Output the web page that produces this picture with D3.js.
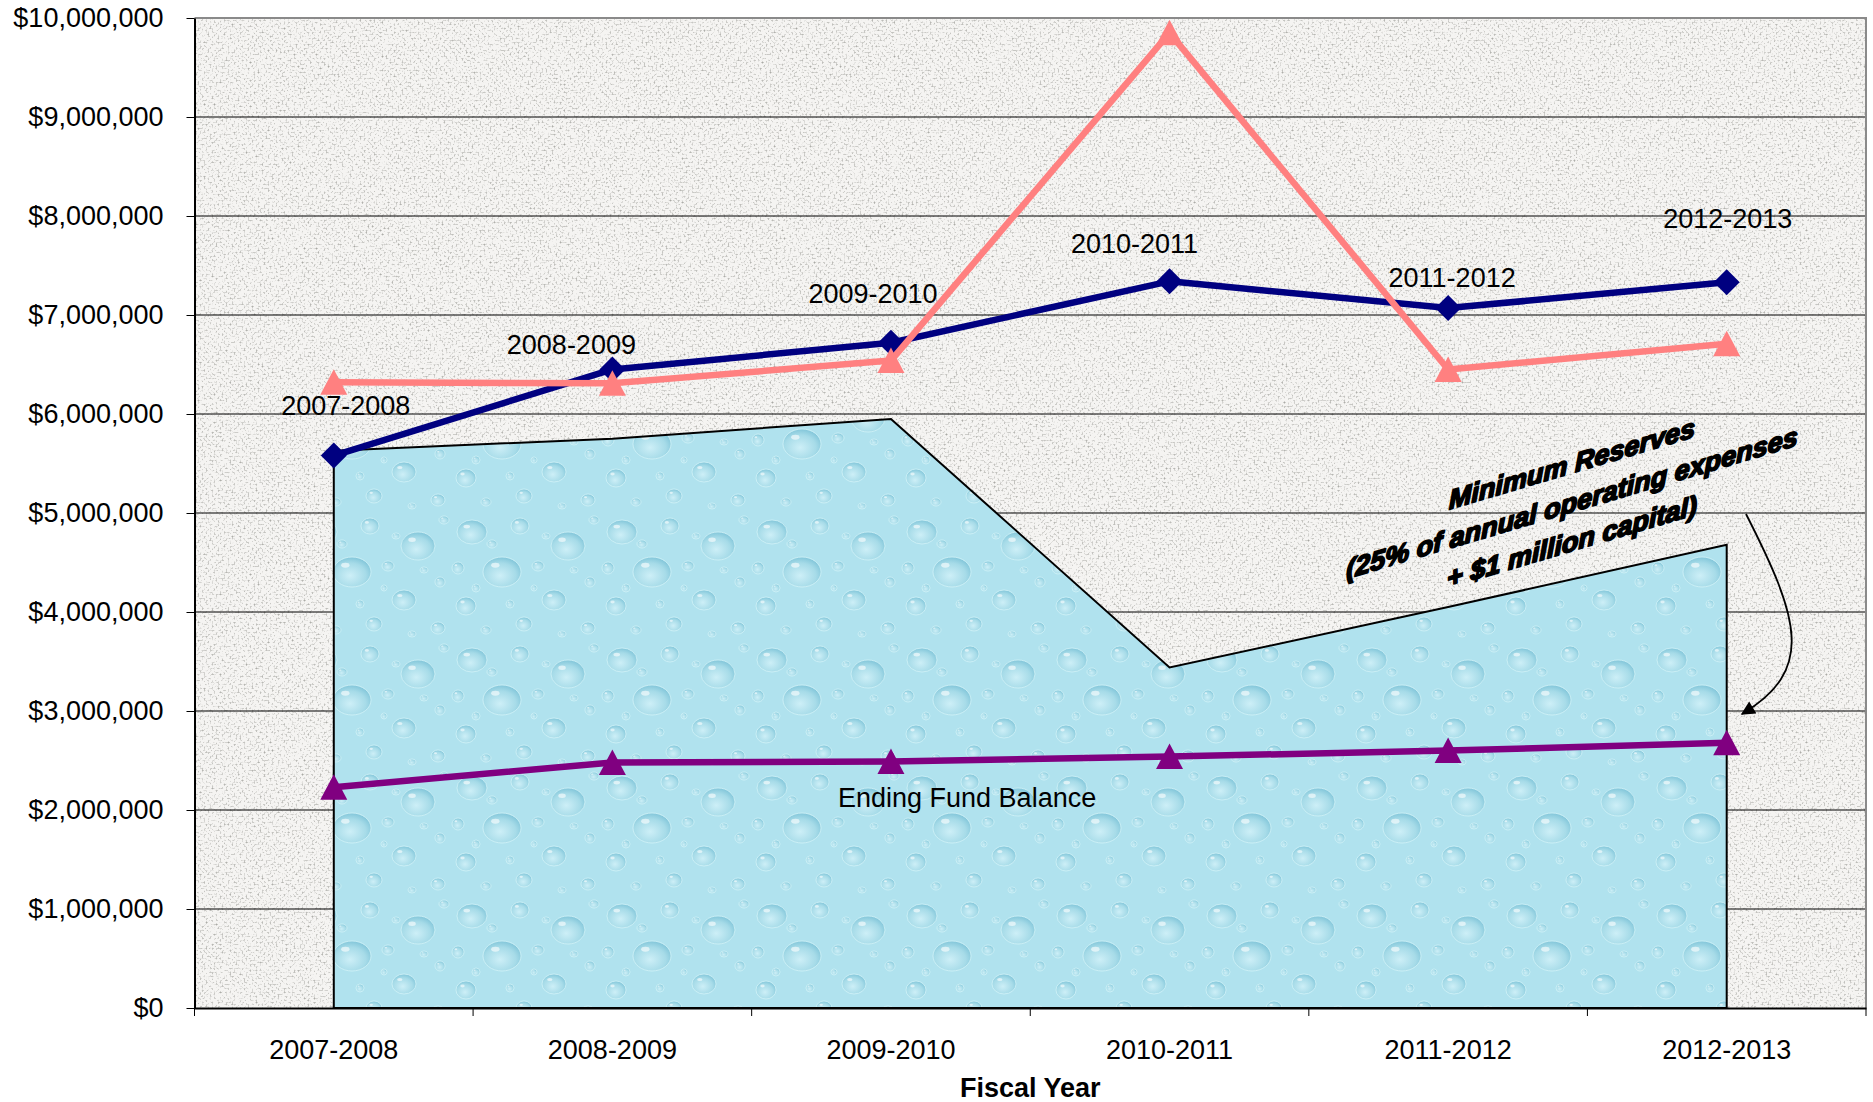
<!DOCTYPE html>
<html>
<head>
<meta charset="utf-8">
<script src="https://cdn.jsdelivr.net/npm/d3@7"></script>
<style>
	body { margin: 0; background: #fff; }
	text { font-family: 'Liberation Sans', Arial, sans-serif; }
</style>
</head>
<body>
<div class="canvas"></div>
<script>

// data
const years = ['2007-2008', '2008-2009', '2009-2010', '2010-2011', '2011-2012', '2012-2013'];
const fundBalance = [5630000, 5750000, 5950000, 3440000, 4050000, 4680000];
const revenues = [5580000, 6450000, 6720000, 7340000, 7070000, 7330000];
const expenses = [6320000, 6310000, 6540000, 9850000, 6450000, 6710000];
const minReserves = [2230000, 2480000, 2490000, 2540000, 2600000, 2680000];
const yTicks = [0, 1000000, 2000000, 3000000, 4000000, 5000000, 6000000, 7000000, 8000000, 9000000, 10000000];
const annotation = ['Minimum Reserves', '(25% of annual operating expenses', '+ $1 million capital)'];

// hand placed data label offsets (px) from the navy points
const labelOffsets = [[12, -50], [-41, -25], [-18, -49], [-35, -38], [4, -31], [1, -64]];

const width = 1873;
const height = 1102;

const svg = d3.select('.canvas')
	.append('svg')
	.attr('width', width)
	.attr('height', height);

// plot area
const plot = { left: 194.5, right: 1866, top: 18, bottom: 1008 };

const x = d3.scaleBand()
	.domain(years)
	.range([plot.left, plot.right])
	.padding(0);
const cx = d => x(d) + x.bandwidth() / 2;

const y = d3.scaleLinear()
	.domain([0, 10000000])
	.range([plot.bottom, plot.top]);

const defs = svg.append('defs');

// granite background
const granite = defs.append('filter')
	.attr('id', 'granite')
	.attr('x', 0).attr('y', 0).attr('width', 1).attr('height', 1)
	.attr('color-interpolation-filters', 'sRGB');
granite.append('feTurbulence')
	.attr('type', 'fractalNoise')
	.attr('baseFrequency', 0.5)
	.attr('numOctaves', 3)
	.attr('seed', 7)
	.attr('result', 'noise');
granite.append('feColorMatrix')
	.attr('in', 'noise')
	.attr('type', 'matrix')
	.attr('values', '0 0 0 0 0.62  0 0 0 0 0.62  0 0 0 0 0.6  2.6 0 0 0 -1.33')
	.attr('result', 'speck');
const gm = granite.append('feMerge');
gm.append('feMergeNode').attr('in', 'SourceGraphic');
gm.append('feMergeNode').attr('in', 'speck');

// water droplets pattern
const dropGrad = defs.append('radialGradient')
	.attr('id', 'drop')
	.attr('cx', '45%').attr('cy', '62%').attr('r', '60%');
dropGrad.append('stop').attr('offset', '0%').attr('stop-color', '#cdeff7');
dropGrad.append('stop').attr('offset', '70%').attr('stop-color', '#a6dbe8');
dropGrad.append('stop').attr('offset', '100%').attr('stop-color', '#86c8db');

const tileW = 150;
const tileH = 128;
const water = defs.append('pattern')
	.attr('id', 'water')
	.attr('patternUnits', 'userSpaceOnUse')
	.attr('width', tileW)
	.attr('height', tileH);
water.append('rect')
	.attr('width', tileW)
	.attr('height', tileH)
	.attr('fill', '#b0e2ee');
const drops = [
	[22, 20, 15, 12], [70, 14, 9, 8], [118, 34, 17, 14], [52, 60, 19, 15],
	[104, 88, 12, 10], [16, 94, 10, 9], [74, 112, 8, 7], [138, 116, 7, 6],
	[42, 32, 5, 4], [88, 54, 6, 5], [8, 56, 6, 6], [36, 118, 5, 4],
	[140, 70, 5, 5], [96, 24, 4, 3], [26, 76, 4, 4], [124, 58, 4, 3],
	[60, 92, 4, 4], [144, 8, 5, 4], [84, 76, 3, 3], [112, 122, 4, 3]
];
water.selectAll('ellipse.d')
	.data(drops)
	.enter()
	.append('ellipse')
	.attr('class', 'd')
	.attr('cx', d => d[0]).attr('cy', d => d[1])
	.attr('rx', d => d[2]).attr('ry', d => d[3])
	.attr('fill', 'url(#drop)')
	.attr('stroke', '#d2f2f8')
	.attr('stroke-width', 0.8);
water.selectAll('ellipse.h')
	.data(drops)
	.enter()
	.append('ellipse')
	.attr('class', 'h')
	.attr('cx', d => d[0] - d[2] * 0.35).attr('cy', d => d[1] - d[3] * 0.45)
	.attr('rx', d => d[2] * 0.22).attr('ry', d => d[3] * 0.16)
	.attr('fill', '#ffffff')
	.attr('opacity', 0.6);

// arrow head
defs.append('marker')
	.attr('id', 'arrow')
	.attr('markerUnits', 'userSpaceOnUse')
	.attr('viewBox', '0 0 10 10')
	.attr('refX', 9).attr('refY', 5)
	.attr('markerWidth', 16).attr('markerHeight', 14)
	.attr('orient', 'auto')
	.append('path')
	.attr('d', 'M0,0 L10,5 L0,10 Z')
	.attr('fill', '#000');

// background
svg.append('rect')
	.attr('x', plot.left)
	.attr('y', plot.top)
	.attr('width', plot.right - plot.left)
	.attr('height', plot.bottom - plot.top)
	.attr('fill', '#f5f4f2')
	.attr('filter', 'url(#granite)');

// gridlines
svg.append('g')
	.selectAll('line')
	.data(yTicks.filter(d => d > 0 && d < 10000000))
	.enter()
	.append('line')
	.attr('x1', plot.left)
	.attr('x2', plot.right)
	.attr('y1', d => y(d))
	.attr('y2', d => y(d))
	.attr('stroke', '#000')
	.attr('stroke-width', 1);

// plot border (top, right)
svg.append('path')
	.attr('d', `M${plot.left},${plot.top} H${plot.right} V${plot.bottom}`)
	.attr('fill', 'none')
	.attr('stroke', '#8a8a8a')
	.attr('stroke-width', 2);

// ending fund balance area
const area = d3.area()
	.x(d => cx(d.year))
	.y0(y(0))
	.y1(d => y(d.value));
svg.append('path')
	.datum(years.map((yr, i) => ({ year: yr, value: fundBalance[i] })))
	.attr('d', area)
	.attr('fill', 'url(#water)')
	.attr('stroke', '#000')
	.attr('stroke-width', 2);

// axes
const yAxis = d3.axisLeft(y)
	.tickValues(yTicks)
	.tickFormat(d3.format('$,'))
	.tickSize(8)
	.tickSizeOuter(0)
	.tickPadding(23);
const yAxisGroup = svg.append('g')
	.attr('transform', `translate(${plot.left},0)`)
	.call(yAxis);
yAxisGroup.selectAll('text')
	.attr('font-size', 27)
	.attr('fill', '#000')
	.style('font-family', "'Liberation Sans', Arial, sans-serif");
yAxisGroup.select('.domain').attr('stroke-width', 2);

const xAxis = d3.axisBottom(x)
	.tickSize(0)
	.tickPadding(32);
const xAxisGroup = svg.append('g')
	.attr('transform', `translate(0,${plot.bottom})`)
	.call(xAxis);
xAxisGroup.selectAll('text')
	.attr('font-size', 27)
	.attr('fill', '#000')
	.style('font-family', "'Liberation Sans', Arial, sans-serif");
xAxisGroup.select('.domain').attr('stroke-width', 2);

// category boundary ticks
xAxisGroup.selectAll('line.bound')
	.data(years.map(d => x(d)).concat([x.range()[1]]))
	.enter()
	.append('line')
	.attr('class', 'bound')
	.attr('x1', d => d).attr('x2', d => d)
	.attr('y1', 0).attr('y2', 8)
	.attr('stroke', '#000');

svg.append('text')
	.attr('x', (plot.left + plot.right) / 2)
	.attr('y', 1097)
	.attr('text-anchor', 'middle')
	.attr('font-size', 27)
	.attr('font-weight', 'bold')
	.text('Fiscal Year');

// series lines + markers
const diamond = 'M0,-13 L13,0 L0,13 L-13,0 Z';
const triangle = 'M0,-13 L13.5,12.5 L-13.5,12.5 Z';

const series = [
	{ values: revenues, color: '#000080', marker: diamond },
	{ values: expenses, color: '#ff8080', marker: triangle },
	{ values: minReserves, color: '#800080', marker: triangle }
];

const line = d3.line()
	.x((d, i) => cx(years[i]))
	.y(d => y(d));

series.forEach(s => {
	const g = svg.append('g');
	g.append('path')
		.attr('d', line(s.values))
		.attr('fill', 'none')
		.attr('stroke', s.color)
		.attr('stroke-width', 6.5)
		.attr('stroke-linejoin', 'round');
	g.selectAll('path.mk')
		.data(s.values)
		.enter()
		.append('path')
		.attr('class', 'mk')
		.attr('d', s.marker)
		.attr('fill', s.color)
		.attr('transform', (d, i) => `translate(${cx(years[i])},${y(d)})`);
});

// data labels (category names) above the navy line
svg.append('g')
	.selectAll('text')
	.data(years)
	.enter()
	.append('text')
	.attr('x', (d, i) => cx(d) + labelOffsets[i][0])
	.attr('y', (d, i) => y(revenues[i]) + labelOffsets[i][1])
	.attr('dy', '0.36em')
	.attr('text-anchor', 'middle')
	.attr('font-size', 27)
	.text(d => d);

// area label
svg.append('text')
	.attr('x', 838)
	.attr('y', 797)
	.attr('dy', '0.36em')
	.attr('font-size', 27)
	.text('Ending Fund Balance');

// slanted annotation
const note = svg.append('g')
	.attr('transform', 'translate(1572,473) skewY(-16.5)');
note.selectAll('text')
	.data(annotation)
	.enter()
	.append('text')
	.attr('x', 0)
	.attr('y', (d, i) => i * 39)
	.attr('text-anchor', 'middle')
	.attr('font-size', 27)
	.attr('font-weight', 'bold')
	.attr('font-style', 'italic')
	.attr('stroke', '#000')
	.attr('stroke-width', 1.8)
	.attr('stroke-linejoin', 'round')
	.text(d => d);

// curved arrow to the minimum reserves line
svg.append('path')
	.attr('d', 'M1746,514 C1800,620 1815,670 1742,714')
	.attr('fill', 'none')
	.attr('stroke', '#000')
	.attr('stroke-width', 1.8)
	.attr('marker-end', 'url(#arrow)');

</script>
</body>
</html>
